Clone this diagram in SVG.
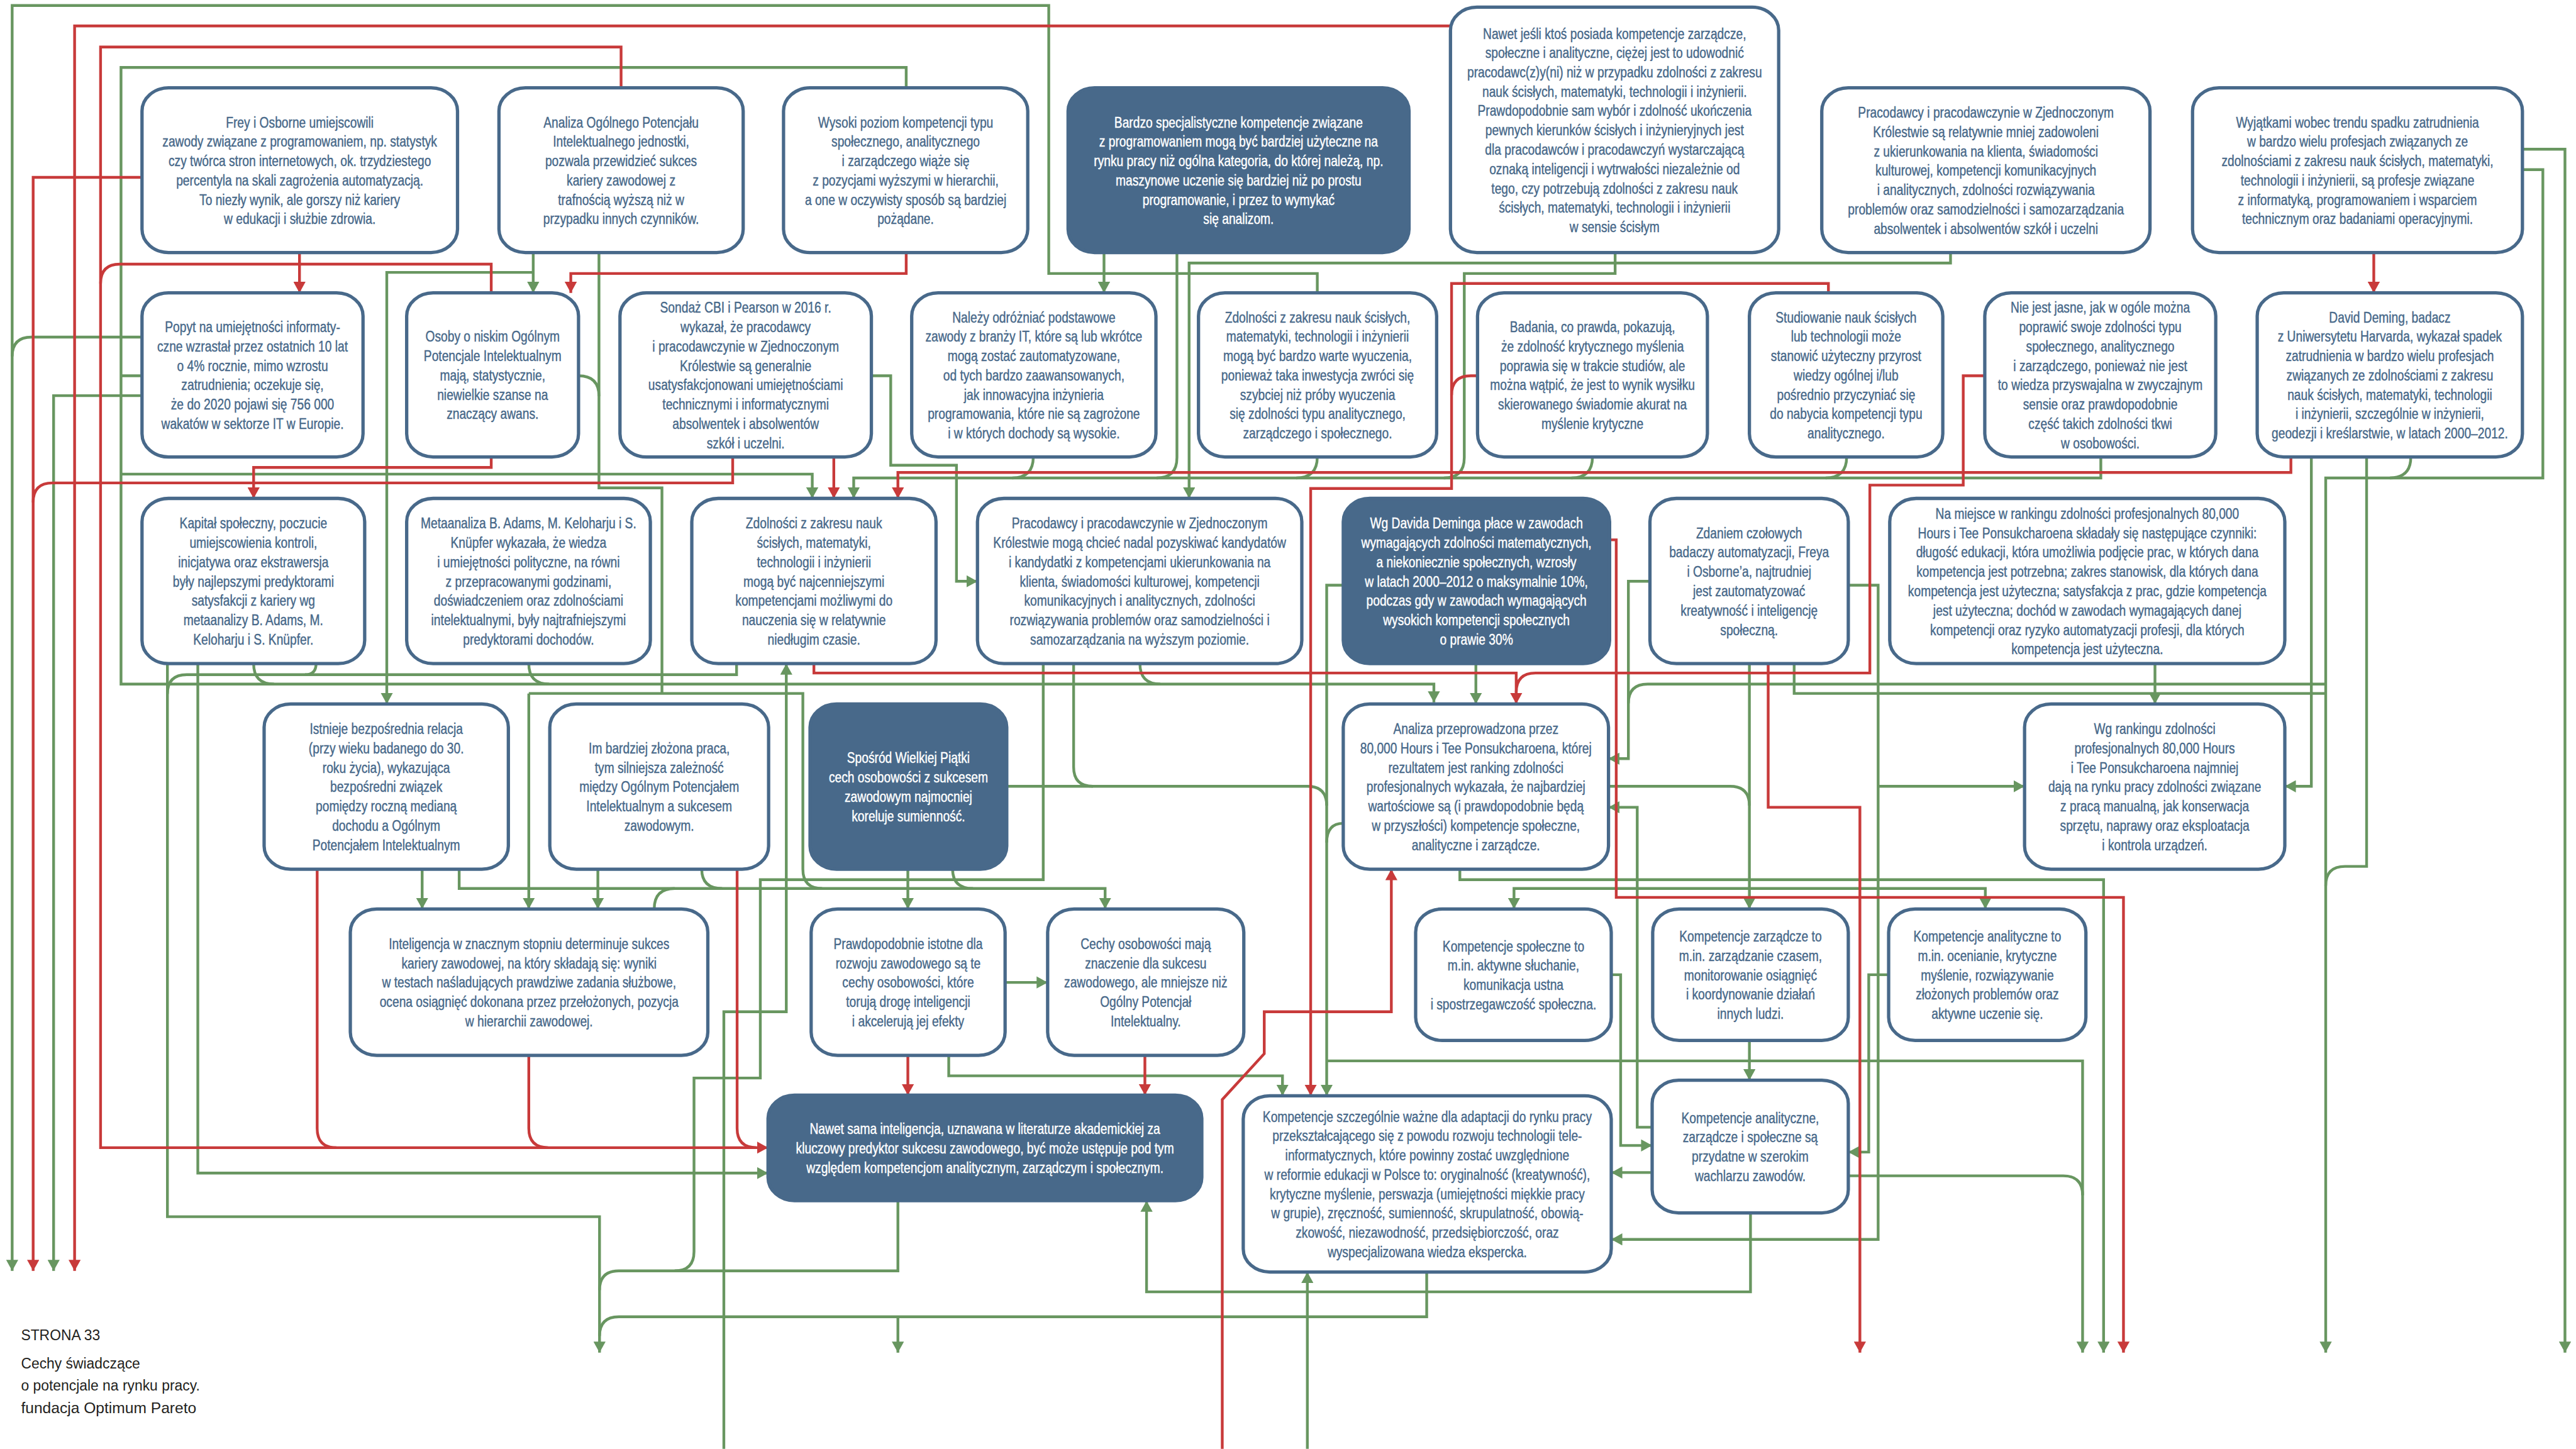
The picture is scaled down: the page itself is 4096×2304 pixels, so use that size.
<svg xmlns="http://www.w3.org/2000/svg" width="4096" height="2304" viewBox="0 0 4096 2304">
<style>
.n{fill:#fff;stroke:#48698a;stroke-width:6}
.d{fill:#48698a;stroke:#48698a;stroke-width:6}
.t{font-family:'Liberation Sans',Arial,sans-serif;font-size:27px;fill:#48698a;stroke:#48698a;stroke-width:0.5;text-anchor:middle}
.w{fill:#fff;stroke:#fff}
.g{fill:none;stroke:#689660;stroke-width:5}
.r{fill:none;stroke:#c83a3a;stroke-width:5}
.ga{marker-end:url(#ag)}
.ra{marker-end:url(#ar)}
.f{font-family:'Liberation Sans',Arial,sans-serif;fill:#231f20}
</style>
<defs>
<marker id="ag" markerUnits="userSpaceOnUse" viewBox="0 0 20 22" markerWidth="20" markerHeight="22" refX="20" refY="11" orient="auto"><path d="M0,0L20,11L0,22z" fill="#689660"/></marker>
<marker id="ar" markerUnits="userSpaceOnUse" viewBox="0 0 20 22" markerWidth="20" markerHeight="22" refX="20" refY="11" orient="auto"><path d="M0,0L20,11L0,22z" fill="#c83a3a"/></marker>
</defs>
<rect width="4096" height="2304" fill="#fff"/>
<g transform="scale(0.8786)">
<g id="connectors">
<path class="g ga" d="M2384,530V495H1898V10H22V2300"/>
<path class="g" d="M257,610H57Q22,610 22,645"/>
<path class="g ga" d="M1640,159V122H219V1238H2595V1271"/>
<path class="g ga" d="M219,858H1470V902"/>
<path class="g" d="M257,680H219"/>
<path class="g" d="M459,1201Q459,1238 496,1238"/>
<path class="g" d="M957,1201Q957,1238 994,1238"/>
<path class="g" d="M2063,1201Q2063,1238 2100,1238"/>
<path class="g ga" d="M965,457V530"/>
<path class="g ga" d="M965,493H700V1274"/>
<path class="g" d="M1084,457V883H1198V1255"/>
<path class="g" d="M957,1255H1453V1573Q1453,1608 1488,1608"/>
<path class="g ga" d="M957,1255V1645"/>
<path class="g" d="M1047,680Q1084,680 1084,717"/>
<path class="g ga" d="M257,716H97V2300"/>
<path class="g ga" d="M1577,680H1612V842H1731V1052H1769"/>
<path class="g ga" d="M1998,457V530"/>
<path class="g" d="M2130,457V828Q2130,865 2093,865"/>
<path class="g ga" d="M3530,457V476H2152V902"/>
<path class="g" d="M2923,457V495H2650V828Q2650,865 2613,865"/>
<path class="g ga" d="M3802,827V865H1545V902"/>
<path class="g" d="M1870,827Q1870,865 1832,865"/>
<path class="g" d="M2384,827Q2384,865 2346,865"/>
<path class="g" d="M2882,827Q2882,865 2844,865"/>
<path class="g" d="M3342,827Q3342,865 3304,865"/>
<path class="g ga" d="M4566,270H4642V2448"/>
<path class="g ga" d="M4566,307H4602V865H4209V2448"/>
<path class="g" d="M4363,827Q4363,865 4325,865"/>
<path class="g" d="M4283,827V1568H4244Q4209,1568 4209,1603"/>
<path class="g ga" d="M4183,827V1423H4135"/>
<path class="g" d="M4209,1238H2982Q2947,1238 2947,1273"/>
<path class="g ga" d="M2986,1052H2947V1373H2911"/>
<path class="g" d="M3247,1201V1255H4209"/>
<path class="g ga" d="M3345,1059H3399V2243H2916"/>
<path class="g ga" d="M3399,1423H3664"/>
<path class="g ga" d="M3166,1201V1645"/>
<path class="g" d="M2911,1423H3131Q3166,1423 3166,1458"/>
<path class="g ga" d="M3166,1608H2740V1645"/>
<path class="g ga" d="M3166,1608H3593V1645"/>
<path class="g ga" d="M3900,1201V1274"/>
<path class="g ga" d="M2671,1201V1274"/>
<path class="g ga" d="M2431,1059H2401V1983"/>
<path class="g ga" d="M2401,1920H3769V2448"/>
<path class="g" d="M1822,1423H2366Q2401,1423 2401,1458"/>
<path class="g" d="M1943,1201V1388Q1943,1423 1978,1423"/>
<path class="g" d="M2431,1490Q2401,1490 2401,1525"/>
<path class="g ga" d="M2642,1573V1592H3807V2448"/>
<path class="g ga" d="M2916,1764H2933V2073H2990"/>
<path class="g ga" d="M2990,2040H2963V1461H2911"/>
<path class="g ga" d="M2990,2122H2916"/>
<path class="g ga" d="M3418,1764H3382V2085H3345"/>
<path class="g" d="M3345,2128H3734Q3769,2128 3769,2163"/>
<path class="g ga" d="M3166,1883V1955"/>
<path class="g ga" d="M3168,2195V2338H2075V2173"/>
<path class="g ga" d="M2366,2622V2302"/>
<path class="g" d="M2582,2302V2383H1120Q1085,2383 1085,2418"/>
<path class="g ga" d="M1625,2383V2448"/>
<path class="g" d="M1625,2173V2300H1120Q1085,2300 1085,2335"/>
<path class="g ga" d="M303,1201V2202H1085V2448"/>
<path class="g" d="M1333,1201V1221H338Q303,1221 303,1256"/>
<path class="g" d="M572,1201Q572,1221 552,1221"/>
<path class="g ga" d="M358,1201V2123H1390"/>
<path class="g ga" d="M764,1573V1645"/>
<path class="g ga" d="M831,1573V1608H2000V1645"/>
<path class="g" d="M1184,1645Q1184,1608 1221,1608"/>
<path class="g" d="M1270,1573Q1270,1608 1307,1608"/>
<path class="g" d="M1724,1573Q1724,1608 1761,1608"/>
<path class="g ga" d="M1082,1573V1645"/>
<path class="g" d="M1888,1201V1592H1376V1951H1256V2265Q1256,2300 1221,2300"/>
<path class="g ga" d="M1643,1573V1645"/>
<path class="g ga" d="M1819,1778H1896"/>
<path class="g ga" d="M1717,1910V1947H2321V1983"/>
<path class="g ga" d="M1310,2622V1831H1423V1201"/>
<path class="r ra" d="M2625,47H135V2300"/>
<path class="r ra" d="M1124,159V85H182V2077H1390"/>
<path class="r" d="M889,530V478H217Q182,478 182,513"/>
<path class="r" d="M574,1573V2042Q574,2077 609,2077"/>
<path class="r" d="M957,1910V2042Q957,2077 992,2077"/>
<path class="r" d="M1334,1573V2042Q1334,2077 1369,2077"/>
<path class="r ra" d="M257,321H60V2300"/>
<path class="r" d="M1326,827V874H95Q60,874 60,909"/>
<path class="r ra" d="M542,457V530"/>
<path class="r ra" d="M1640,457V495H1033V530"/>
<path class="r ra" d="M889,827V846H459V902"/>
<path class="r ra" d="M1509,827V902"/>
<path class="r ra" d="M4146,827V855H1625V902"/>
<path class="r ra" d="M3309,530V513H2627V884H2372V1983"/>
<path class="r" d="M2674,680H2662Q2627,680 2627,715"/>
<path class="r ra" d="M1473,1201V1218H2744V1274"/>
<path class="r" d="M3592,680H3553V878H3384V1218H2779Q2744,1218 2744,1253"/>
<path class="r ra" d="M2913,977H2925V1624H3843V2448"/>
<path class="r ra" d="M3200,1201V1461H3366V2448"/>
<path class="r ra" d="M2212,2622V1990L2288,1907V1831H2518V1573"/>
<path class="r ra" d="M1643,1910V1982"/>
<path class="r ra" d="M2072,1910V1982"/>
<path class="r ra" d="M4296,457V530"/>
</g>
<g id="n1"><rect class="n" x="257" y="159" width="571" height="298" rx="48" ry="42"/>
<text class="t" transform="translate(542.5,230.5) scale(0.81,1)"><tspan x="0">Frey i Osborne umiejscowili</tspan><tspan x="0" dy="35">zawody związane z programowaniem, np. statystyk</tspan><tspan x="0" dy="35">czy twórca stron internetowych, ok. trzydziestego</tspan><tspan x="0" dy="35">percentyla na skali zagrożenia automatyzacją.</tspan><tspan x="0" dy="35">To niezły wynik, ale gorszy niż kariery</tspan><tspan x="0" dy="35">w edukacji i służbie zdrowia.</tspan></text></g>
<g id="n2"><rect class="n" x="903" y="159" width="442" height="298" rx="48" ry="42"/>
<text class="t" transform="translate(1124,230.5) scale(0.81,1)"><tspan x="0">Analiza Ogólnego Potencjału</tspan><tspan x="0" dy="35">Intelektualnego jednostki,</tspan><tspan x="0" dy="35">pozwala przewidzieć sukces</tspan><tspan x="0" dy="35">kariery zawodowej z</tspan><tspan x="0" dy="35">trafnością wyższą niż w</tspan><tspan x="0" dy="35">przypadku innych czynników.</tspan></text></g>
<g id="n3"><rect class="n" x="1418" y="159" width="442" height="298" rx="48" ry="42"/>
<text class="t" transform="translate(1639,230.5) scale(0.81,1)"><tspan x="0">Wysoki poziom kompetencji typu</tspan><tspan x="0" dy="35">społecznego, analitycznego</tspan><tspan x="0" dy="35">i zarządczego wiąże się</tspan><tspan x="0" dy="35">z pozycjami wyższymi w hierarchii,</tspan><tspan x="0" dy="35">a one w oczywisty sposób są bardziej</tspan><tspan x="0" dy="35">pożądane.</tspan></text></g>
<g id="n4"><rect class="d" x="1933" y="159" width="617" height="298" rx="48" ry="42"/>
<text class="t w" transform="translate(2241.5,230.5) scale(0.81,1)"><tspan x="0">Bardzo specjalistyczne kompetencje związane</tspan><tspan x="0" dy="35">z programowaniem mogą być bardziej użyteczne na</tspan><tspan x="0" dy="35">rynku pracy niż ogólna kategoria, do której należą, np.</tspan><tspan x="0" dy="35">maszynowe uczenie się bardziej niż po prostu</tspan><tspan x="0" dy="35">programowanie, i przez to wymykać</tspan><tspan x="0" dy="35">się analizom.</tspan></text></g>
<g id="n5"><rect class="n" x="2625" y="13" width="594" height="444" rx="48" ry="42"/>
<text class="t" transform="translate(2922,70) scale(0.81,1)"><tspan x="0">Nawet jeśli ktoś posiada kompetencje zarządcze,</tspan><tspan x="0" dy="35">społeczne i analityczne, ciężej jest to udowodnić</tspan><tspan x="0" dy="35">pracodawc(z)y(ni) niż w przypadku zdolności z zakresu</tspan><tspan x="0" dy="35">nauk ścisłych, matematyki, technologii i inżynierii.</tspan><tspan x="0" dy="35">Prawdopodobnie sam wybór i zdolność ukończenia</tspan><tspan x="0" dy="35">pewnych kierunków ścisłych i inżynieryjnych jest</tspan><tspan x="0" dy="35">dla pracodawców i pracodawczyń wystarczającą</tspan><tspan x="0" dy="35">oznaką inteligencji i wytrwałości niezależnie od</tspan><tspan x="0" dy="35">tego, czy potrzebują zdolności z zakresu nauk</tspan><tspan x="0" dy="35">ścisłych, matematyki, technologii i inżynierii</tspan><tspan x="0" dy="35">w sensie ścisłym</tspan></text></g>
<g id="n6"><rect class="n" x="3297" y="159" width="594" height="298" rx="48" ry="42"/>
<text class="t" transform="translate(3594,213) scale(0.81,1)"><tspan x="0">Pracodawcy i pracodawczynie w Zjednoczonym</tspan><tspan x="0" dy="35">Królestwie są relatywnie mniej zadowoleni</tspan><tspan x="0" dy="35">z ukierunkowania na klienta, świadomości</tspan><tspan x="0" dy="35">kulturowej, kompetencji komunikacyjnych</tspan><tspan x="0" dy="35">i analitycznych, zdolności rozwiązywania</tspan><tspan x="0" dy="35">problemów oraz samodzielności i samozarządzania</tspan><tspan x="0" dy="35">absolwentek i absolwentów szkół i uczelni</tspan></text></g>
<g id="n7"><rect class="n" x="3968" y="159" width="597" height="298" rx="48" ry="42"/>
<text class="t" transform="translate(4266.5,230.5) scale(0.81,1)"><tspan x="0">Wyjątkami wobec trendu spadku zatrudnienia</tspan><tspan x="0" dy="35">w bardzo wielu profesjach związanych ze</tspan><tspan x="0" dy="35">zdolnościami z zakresu nauk ścisłych, matematyki,</tspan><tspan x="0" dy="35">technologii i inżynierii, są profesje związane</tspan><tspan x="0" dy="35">z informatyką, programowaniem i wsparciem</tspan><tspan x="0" dy="35">technicznym oraz badaniami operacyjnymi.</tspan></text></g>
<g id="n8"><rect class="n" x="257" y="530" width="400" height="297" rx="48" ry="42"/>
<text class="t" transform="translate(457,601) scale(0.81,1)"><tspan x="0">Popyt na umiejętności informaty-</tspan><tspan x="0" dy="35">czne wzrastał przez ostatnich 10 lat</tspan><tspan x="0" dy="35">o 4% rocznie, mimo wzrostu</tspan><tspan x="0" dy="35">zatrudnienia; oczekuje się,</tspan><tspan x="0" dy="35">że do 2020 pojawi się 756 000</tspan><tspan x="0" dy="35">wakatów w sektorze IT w Europie.</tspan></text></g>
<g id="n9"><rect class="n" x="736" y="530" width="311" height="297" rx="48" ry="42"/>
<text class="t" transform="translate(891.5,618.5) scale(0.81,1)"><tspan x="0">Osoby o niskim Ogólnym</tspan><tspan x="0" dy="35">Potencjale Intelektualnym</tspan><tspan x="0" dy="35">mają, statystycznie,</tspan><tspan x="0" dy="35">niewielkie szanse na</tspan><tspan x="0" dy="35">znaczący awans.</tspan></text></g>
<g id="n10"><rect class="n" x="1122" y="530" width="455" height="297" rx="48" ry="42"/>
<text class="t" transform="translate(1349.5,566) scale(0.81,1)"><tspan x="0">Sondaż CBI i Pearson w 2016 r.</tspan><tspan x="0" dy="35">wykazał, że pracodawcy</tspan><tspan x="0" dy="35">i pracodawczynie w Zjednoczonym</tspan><tspan x="0" dy="35">Królestwie są generalnie</tspan><tspan x="0" dy="35">usatysfakcjonowani umiejętnościami</tspan><tspan x="0" dy="35">technicznymi i informatycznymi</tspan><tspan x="0" dy="35">absolwentek i absolwentów</tspan><tspan x="0" dy="35">szkół i uczelni.</tspan></text></g>
<g id="n11"><rect class="n" x="1650" y="530" width="442" height="297" rx="48" ry="42"/>
<text class="t" transform="translate(1871,583.5) scale(0.81,1)"><tspan x="0">Należy odróżniać podstawowe</tspan><tspan x="0" dy="35">zawody z branży IT, które są lub wkrótce</tspan><tspan x="0" dy="35">mogą zostać zautomatyzowane,</tspan><tspan x="0" dy="35">od tych bardzo zaawansowanych,</tspan><tspan x="0" dy="35">jak innowacyjna inżynieria</tspan><tspan x="0" dy="35">programowania, które nie są zagrożone</tspan><tspan x="0" dy="35">i w których dochody są wysokie.</tspan></text></g>
<g id="n12"><rect class="n" x="2169" y="530" width="431" height="297" rx="48" ry="42"/>
<text class="t" transform="translate(2384.5,583.5) scale(0.81,1)"><tspan x="0">Zdolności z zakresu nauk ścisłych,</tspan><tspan x="0" dy="35">matematyki, technologii i inżynierii</tspan><tspan x="0" dy="35">mogą być bardzo warte wyuczenia,</tspan><tspan x="0" dy="35">ponieważ taka inwestycja zwróci się</tspan><tspan x="0" dy="35">szybciej niż próby wyuczenia</tspan><tspan x="0" dy="35">się zdolności typu analitycznego,</tspan><tspan x="0" dy="35">zarządczego i społecznego.</tspan></text></g>
<g id="n13"><rect class="n" x="2674" y="530" width="416" height="297" rx="48" ry="42"/>
<text class="t" transform="translate(2882,601) scale(0.81,1)"><tspan x="0">Badania, co prawda, pokazują,</tspan><tspan x="0" dy="35">że zdolność krytycznego myślenia</tspan><tspan x="0" dy="35">poprawia się w trakcie studiów, ale</tspan><tspan x="0" dy="35">można wątpić, że jest to wynik wysiłku</tspan><tspan x="0" dy="35">skierowanego świadomie akurat na</tspan><tspan x="0" dy="35">myślenie krytyczne</tspan></text></g>
<g id="n14"><rect class="n" x="3166" y="530" width="350" height="297" rx="48" ry="42"/>
<text class="t" transform="translate(3341,583.5) scale(0.81,1)"><tspan x="0">Studiowanie nauk ścisłych</tspan><tspan x="0" dy="35">lub technologii może</tspan><tspan x="0" dy="35">stanowić użyteczny przyrost</tspan><tspan x="0" dy="35">wiedzy ogólnej i/lub</tspan><tspan x="0" dy="35">pośrednio przyczyniać się</tspan><tspan x="0" dy="35">do nabycia kompetencji typu</tspan><tspan x="0" dy="35">analitycznego.</tspan></text></g>
<g id="n15"><rect class="n" x="3592" y="530" width="418" height="297" rx="48" ry="42"/>
<text class="t" transform="translate(3801,566) scale(0.81,1)"><tspan x="0">Nie jest jasne, jak w ogóle można</tspan><tspan x="0" dy="35">poprawić swoje zdolności typu</tspan><tspan x="0" dy="35">społecznego, analitycznego</tspan><tspan x="0" dy="35">i zarządczego, ponieważ nie jest</tspan><tspan x="0" dy="35">to wiedza przyswajalna w zwyczajnym</tspan><tspan x="0" dy="35">sensie oraz prawdopodobnie</tspan><tspan x="0" dy="35">część takich zdolności tkwi</tspan><tspan x="0" dy="35">w osobowości.</tspan></text></g>
<g id="n16"><rect class="n" x="4085" y="530" width="480" height="297" rx="48" ry="42"/>
<text class="t" transform="translate(4325,583.5) scale(0.81,1)"><tspan x="0">David Deming, badacz</tspan><tspan x="0" dy="35">z Uniwersytetu Harvarda, wykazał spadek</tspan><tspan x="0" dy="35">zatrudnienia w bardzo wielu profesjach</tspan><tspan x="0" dy="35">związanych ze zdolnościami z zakresu</tspan><tspan x="0" dy="35">nauk ścisłych, matematyki, technologii</tspan><tspan x="0" dy="35">i inżynierii, szczególnie w inżynierii,</tspan><tspan x="0" dy="35">geodezji i kreślarstwie, w latach 2000–2012.</tspan></text></g>
<g id="n17"><rect class="n" x="257" y="902" width="403" height="299" rx="48" ry="42"/>
<text class="t" transform="translate(458.5,956.5) scale(0.81,1)"><tspan x="0">Kapitał społeczny, poczucie</tspan><tspan x="0" dy="35">umiejscowienia kontroli,</tspan><tspan x="0" dy="35">inicjatywa oraz ekstrawersja</tspan><tspan x="0" dy="35">były najlepszymi predyktorami</tspan><tspan x="0" dy="35">satysfakcji z kariery wg</tspan><tspan x="0" dy="35">metaanalizy B. Adams, M.</tspan><tspan x="0" dy="35">Keloharju i S. Knüpfer.</tspan></text></g>
<g id="n18"><rect class="n" x="736" y="902" width="441" height="299" rx="48" ry="42"/>
<text class="t" transform="translate(956.5,956.5) scale(0.81,1)"><tspan x="0">Metaanaliza B. Adams, M. Keloharju i S.</tspan><tspan x="0" dy="35">Knüpfer wykazała, że wiedza</tspan><tspan x="0" dy="35">i umiejętności polityczne, na równi</tspan><tspan x="0" dy="35">z przepracowanymi godzinami,</tspan><tspan x="0" dy="35">doświadczeniem oraz zdolnościami</tspan><tspan x="0" dy="35">intelektualnymi, były najtrafniejszymi</tspan><tspan x="0" dy="35">predyktorami dochodów.</tspan></text></g>
<g id="n19"><rect class="n" x="1252" y="902" width="442" height="299" rx="48" ry="42"/>
<text class="t" transform="translate(1473,956.5) scale(0.81,1)"><tspan x="0">Zdolności z zakresu nauk</tspan><tspan x="0" dy="35">ścisłych, matematyki,</tspan><tspan x="0" dy="35">technologii i inżynierii</tspan><tspan x="0" dy="35">mogą być najcenniejszymi</tspan><tspan x="0" dy="35">kompetencjami możliwymi do</tspan><tspan x="0" dy="35">nauczenia się w relatywnie</tspan><tspan x="0" dy="35">niedługim czasie.</tspan></text></g>
<g id="n20"><rect class="n" x="1769" y="902" width="587" height="299" rx="48" ry="42"/>
<text class="t" transform="translate(2062.5,956.5) scale(0.81,1)"><tspan x="0">Pracodawcy i pracodawczynie w Zjednoczonym</tspan><tspan x="0" dy="35">Królestwie mogą chcieć nadal pozyskiwać kandydatów</tspan><tspan x="0" dy="35">i kandydatki z kompetencjami ukierunkowania na</tspan><tspan x="0" dy="35">klienta, świadomości kulturowej, kompetencji</tspan><tspan x="0" dy="35">komunikacyjnych i analitycznych, zdolności</tspan><tspan x="0" dy="35">rozwiązywania problemów oraz samodzielności i</tspan><tspan x="0" dy="35">samozarządzania na wyższym poziomie.</tspan></text></g>
<g id="n21"><rect class="d" x="2431" y="902" width="482" height="299" rx="48" ry="42"/>
<text class="t w" transform="translate(2672,956.5) scale(0.81,1)"><tspan x="0">Wg Davida Deminga płace w zawodach</tspan><tspan x="0" dy="35">wymagających zdolności matematycznych,</tspan><tspan x="0" dy="35">a niekoniecznie społecznych, wzrosły</tspan><tspan x="0" dy="35">w latach 2000–2012 o maksymalnie 10%,</tspan><tspan x="0" dy="35">podczas gdy w zawodach wymagających</tspan><tspan x="0" dy="35">wysokich kompetencji społecznych</tspan><tspan x="0" dy="35">o prawie 30%</tspan></text></g>
<g id="n22"><rect class="n" x="2986" y="902" width="359" height="299" rx="48" ry="42"/>
<text class="t" transform="translate(3165.5,974) scale(0.81,1)"><tspan x="0">Zdaniem czołowych</tspan><tspan x="0" dy="35">badaczy automatyzacji, Freya</tspan><tspan x="0" dy="35">i Osborne’a, najtrudniej</tspan><tspan x="0" dy="35">jest zautomatyzować</tspan><tspan x="0" dy="35">kreatywność i inteligencję</tspan><tspan x="0" dy="35">społeczną.</tspan></text></g>
<g id="n23"><rect class="n" x="3420" y="902" width="715" height="299" rx="48" ry="42"/>
<text class="t" transform="translate(3777.5,939) scale(0.81,1)"><tspan x="0">Na miejsce w rankingu zdolności profesjonalnych 80,000</tspan><tspan x="0" dy="35">Hours i Tee Ponsukcharoena składały się następujące czynniki:</tspan><tspan x="0" dy="35">długość edukacji, która umożliwia podjęcie prac, w których dana</tspan><tspan x="0" dy="35">kompetencja jest potrzebna; zakres stanowisk, dla których dana</tspan><tspan x="0" dy="35">kompetencja jest użyteczna; satysfakcja z prac, gdzie kompetencja</tspan><tspan x="0" dy="35">jest użyteczna; dochód w zawodach wymagających danej</tspan><tspan x="0" dy="35">kompetencji oraz ryzyko automatyzacji profesji, dla których</tspan><tspan x="0" dy="35">kompetencja jest użyteczna.</tspan></text></g>
<g id="n24"><rect class="n" x="478" y="1274" width="442" height="299" rx="48" ry="42"/>
<text class="t" transform="translate(699,1328.5) scale(0.81,1)"><tspan x="0">Istnieje bezpośrednia relacja</tspan><tspan x="0" dy="35">(przy wieku badanego do 30.</tspan><tspan x="0" dy="35">roku życia), wykazująca</tspan><tspan x="0" dy="35">bezpośredni związek</tspan><tspan x="0" dy="35">pomiędzy roczną medianą</tspan><tspan x="0" dy="35">dochodu a Ogólnym</tspan><tspan x="0" dy="35">Potencjałem Intelektualnym</tspan></text></g>
<g id="n25"><rect class="n" x="995" y="1274" width="396" height="299" rx="48" ry="42"/>
<text class="t" transform="translate(1193,1363.5) scale(0.81,1)"><tspan x="0">Im bardziej złożona praca,</tspan><tspan x="0" dy="35">tym silniejsza zależność</tspan><tspan x="0" dy="35">między Ogólnym Potencjałem</tspan><tspan x="0" dy="35">Intelektualnym a sukcesem</tspan><tspan x="0" dy="35">zawodowym.</tspan></text></g>
<g id="n26"><rect class="d" x="1466" y="1274" width="356" height="299" rx="48" ry="42"/>
<text class="t w" transform="translate(1644,1381) scale(0.81,1)"><tspan x="0">Spośród Wielkiej Piątki</tspan><tspan x="0" dy="35">cech osobowości z sukcesem</tspan><tspan x="0" dy="35">zawodowym najmocniej</tspan><tspan x="0" dy="35">koreluje sumienność.</tspan></text></g>
<g id="n27"><rect class="n" x="2431" y="1274" width="480" height="299" rx="48" ry="42"/>
<text class="t" transform="translate(2671,1328.5) scale(0.81,1)"><tspan x="0">Analiza przeprowadzona przez</tspan><tspan x="0" dy="35">80,000 Hours i Tee Ponsukcharoena, której</tspan><tspan x="0" dy="35">rezultatem jest ranking zdolności</tspan><tspan x="0" dy="35">profesjonalnych wykazała, że najbardziej</tspan><tspan x="0" dy="35">wartościowe są (i prawdopodobnie będą</tspan><tspan x="0" dy="35">w przyszłości) kompetencje społeczne,</tspan><tspan x="0" dy="35">analityczne i zarządcze.</tspan></text></g>
<g id="n28"><rect class="n" x="3664" y="1274" width="471" height="299" rx="48" ry="42"/>
<text class="t" transform="translate(3899.5,1328.5) scale(0.81,1)"><tspan x="0">Wg rankingu zdolności</tspan><tspan x="0" dy="35">profesjonalnych 80,000 Hours</tspan><tspan x="0" dy="35">i Tee Ponsukcharoena najmniej</tspan><tspan x="0" dy="35">dają na rynku pracy zdolności związane</tspan><tspan x="0" dy="35">z pracą manualną, jak konserwacja</tspan><tspan x="0" dy="35">sprzętu, naprawy oraz eksploatacja</tspan><tspan x="0" dy="35">i kontrola urządzeń.</tspan></text></g>
<g id="n29"><rect class="n" x="634" y="1645" width="647" height="265" rx="48" ry="42"/>
<text class="t" transform="translate(957.5,1717.5) scale(0.81,1)"><tspan x="0">Inteligencja w znacznym stopniu determinuje sukces</tspan><tspan x="0" dy="35">kariery zawodowej, na który składają się: wyniki</tspan><tspan x="0" dy="35">w testach naśladujących prawdziwe zadania służbowe,</tspan><tspan x="0" dy="35">ocena osiągnięć dokonana przez przełożonych, pozycja</tspan><tspan x="0" dy="35">w hierarchii zawodowej.</tspan></text></g>
<g id="n30"><rect class="n" x="1468" y="1645" width="351" height="265" rx="48" ry="42"/>
<text class="t" transform="translate(1643.5,1717.5) scale(0.81,1)"><tspan x="0">Prawdopodobnie istotne dla</tspan><tspan x="0" dy="35">rozwoju zawodowego są te</tspan><tspan x="0" dy="35">cechy osobowości, które</tspan><tspan x="0" dy="35">torują drogę inteligencji</tspan><tspan x="0" dy="35">i akcelerują jej efekty</tspan></text></g>
<g id="n31"><rect class="n" x="1896" y="1645" width="355" height="265" rx="48" ry="42"/>
<text class="t" transform="translate(2073.5,1717.5) scale(0.81,1)"><tspan x="0">Cechy osobowości mają</tspan><tspan x="0" dy="35">znaczenie dla sukcesu</tspan><tspan x="0" dy="35">zawodowego, ale mniejsze niż</tspan><tspan x="0" dy="35">Ogólny Potencjał</tspan><tspan x="0" dy="35">Intelektualny.</tspan></text></g>
<g id="n32"><rect class="n" x="2562" y="1645" width="354" height="238" rx="48" ry="42"/>
<text class="t" transform="translate(2739,1721.5) scale(0.81,1)"><tspan x="0">Kompetencje społeczne to</tspan><tspan x="0" dy="35">m.in. aktywne słuchanie,</tspan><tspan x="0" dy="35">komunikacja ustna</tspan><tspan x="0" dy="35">i spostrzegawczość społeczna.</tspan></text></g>
<g id="n33"><rect class="n" x="2991" y="1645" width="354" height="238" rx="48" ry="42"/>
<text class="t" transform="translate(3168,1704) scale(0.81,1)"><tspan x="0">Kompetencje zarządcze to</tspan><tspan x="0" dy="35">m.in. zarządzanie czasem,</tspan><tspan x="0" dy="35">monitorowanie osiągnięć</tspan><tspan x="0" dy="35">i koordynowanie działań</tspan><tspan x="0" dy="35">innych ludzi.</tspan></text></g>
<g id="n34"><rect class="n" x="3418" y="1645" width="357" height="238" rx="48" ry="42"/>
<text class="t" transform="translate(3596.5,1704) scale(0.81,1)"><tspan x="0">Kompetencje analityczne to</tspan><tspan x="0" dy="35">m.in. ocenianie, krytyczne</tspan><tspan x="0" dy="35">myślenie, rozwiązywanie</tspan><tspan x="0" dy="35">złożonych problemów oraz</tspan><tspan x="0" dy="35">aktywne uczenie się.</tspan></text></g>
<g id="n35"><rect class="d" x="1390" y="1982" width="785" height="191" rx="48" ry="42"/>
<text class="t w" transform="translate(1782.5,2052.5) scale(0.81,1)"><tspan x="0">Nawet sama inteligencja, uznawana w literaturze akademickiej za</tspan><tspan x="0" dy="35">kluczowy predyktor sukcesu zawodowego, być może ustępuje pod tym</tspan><tspan x="0" dy="35">względem kompetencjom analitycznym, zarządczym i społecznym.</tspan></text></g>
<g id="n36"><rect class="n" x="2250" y="1983" width="666" height="319" rx="48" ry="42"/>
<text class="t" transform="translate(2583,2030) scale(0.81,1)"><tspan x="0">Kompetencje szczególnie ważne dla adaptacji do rynku pracy</tspan><tspan x="0" dy="35">przekształcającego się z powodu rozwoju technologii tele-</tspan><tspan x="0" dy="35">informatycznych, które powinny zostać uwzględnione</tspan><tspan x="0" dy="35">w reformie edukacji w Polsce to: oryginalność (kreatywność),</tspan><tspan x="0" dy="35">krytyczne myślenie, perswazja (umiejętności miękkie pracy</tspan><tspan x="0" dy="35">w grupie), zręczność, sumienność, skrupulatność, obowią-</tspan><tspan x="0" dy="35">zkowość, niezawodność, przedsiębiorczość, oraz</tspan><tspan x="0" dy="35">wyspecjalizowana wiedza ekspercka.</tspan></text></g>
<g id="n37"><rect class="n" x="2990" y="1955" width="355" height="240" rx="48" ry="42"/>
<text class="t" transform="translate(3167.5,2032.5) scale(0.81,1)"><tspan x="0">Kompetencje analityczne,</tspan><tspan x="0" dy="35">zarządcze i społeczne są</tspan><tspan x="0" dy="35">przydatne w szerokim</tspan><tspan x="0" dy="35">wachlarzu zawodów.</tspan></text></g>
<g id="footer">
<text class="f" font-size="28" transform="translate(38,2426) scale(0.93,1)">STRONA 33</text>
<text class="f" font-size="28" transform="translate(38,2477) scale(0.93,1)">Cechy świadczące</text>
<text class="f" font-size="28" transform="translate(38,2517) scale(0.93,1)">o potencjale na rynku pracy.</text>
<text class="f" font-size="28" transform="translate(38,2558)">fundacja Optimum Pareto</text>
</g>
</g>
</svg>
